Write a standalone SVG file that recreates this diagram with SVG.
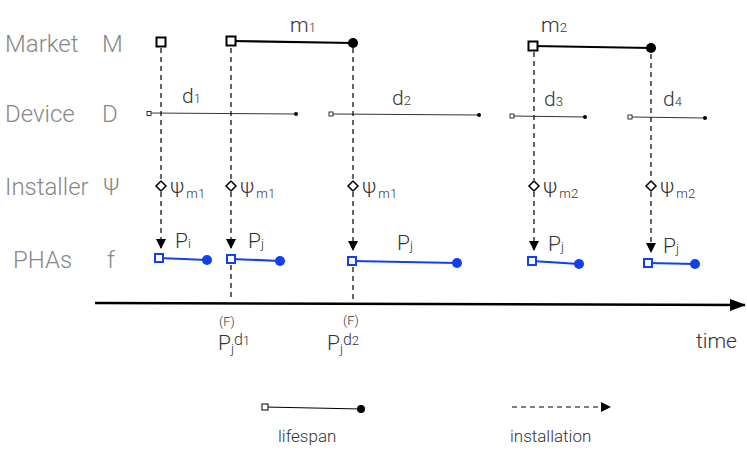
<svg xmlns="http://www.w3.org/2000/svg" width="747" height="453" viewBox="0 0 747 453">
<style>
text{font-family:Roboto,"Open Sans","Liberation Sans",sans-serif;font-weight:300;fill:#333}
.lab{font-size:24px;fill:#888}
.big{font-size:21px}
.sub{font-size:13px}
.life{stroke:#000;stroke-width:2.2;fill:none}
.dev{stroke:#000;stroke-width:0.8}
.pha{stroke:#1040f0;stroke-width:2.2}
.dash{stroke:#000;stroke-width:1.2;stroke-dasharray:5,4;fill:none}
</style>
<defs>
<marker id="ar" markerWidth="10" markerHeight="10" refX="9" refY="5" orient="auto" markerUnits="userSpaceOnUse"><path d="M0,0L10,5L0,10z" fill="#000"/></marker>
<marker id="ax" markerWidth="16" markerHeight="12" refX="15" refY="6" orient="auto" markerUnits="userSpaceOnUse"><path d="M0,0L16,6L0,12z" fill="#000"/></marker>
</defs>
<g id="labels">
<text class="lab" x="5" y="52">Market</text><text class="lab" x="102" y="52" fill="#555">M</text>
<text class="lab" x="5" y="122">Device</text><text class="lab" x="102" y="122">D</text>
<text class="lab" x="5" y="195">Installer</text><text class="lab" x="103" y="195">Ψ</text>
<text class="lab" x="13" y="268">PHAs</text><text class="lab" x="107" y="268">f</text>
</g>
<g id="connectors">
<path class="dash" d="M161,48V180M161,192V248" marker-end="url(#ar)"/>
<path class="dash" d="M231,48V180M231,192V248" marker-end="url(#ar)"/>
<path class="dash" d="M353,48V180M353,192V250" marker-end="url(#ar)"/>
<path class="dash" d="M534,52V180M534,192V250" marker-end="url(#ar)"/>
<path class="dash" d="M651,54V180M651,192V252" marker-end="url(#ar)"/>
<path class="dash" d="M231,265V300M353,267V300"/>
<line x1="95" y1="303" x2="745" y2="305" stroke="#000" stroke-width="2.5" marker-end="url(#ax)"/>
</g>
<g id="market">
<line class="life" x1="231" y1="41" x2="353" y2="43"/><rect x="226.5" y="36.5" width="9" height="9" fill="#fff" stroke="#000" stroke-width="2"/><circle cx="353" cy="43" r="5"/>
<rect x="156.5" y="37.5" width="9" height="9" fill="#fff" stroke="#000" stroke-width="2"/>
<line class="life" x1="533" y1="46" x2="651" y2="48"/><rect x="528.5" y="41.5" width="9" height="9" fill="#fff" stroke="#000" stroke-width="2"/><circle cx="651" cy="48" r="5"/>
<text class="big" x="290" y="32">m<tspan class="sub">1</tspan></text>
<text class="big" x="541" y="32">m<tspan class="sub">2</tspan></text>
</g>
<g id="device">
<line class="dev" x1="149" y1="113" x2="296" y2="114"/><rect x="147" y="111.5" width="4" height="4" fill="#fff" stroke="#000" stroke-width="0.8"/><circle cx="296" cy="114" r="2"/>
<line class="dev" x1="331" y1="114" x2="479" y2="115"/><rect x="329" y="112" width="4" height="4" fill="#fff" stroke="#000" stroke-width="0.8"/><circle cx="479" cy="115" r="2"/>
<line class="dev" x1="512" y1="116" x2="585" y2="117"/><rect x="510" y="114" width="4" height="4" fill="#fff" stroke="#000" stroke-width="0.8"/><circle cx="585" cy="117" r="2"/>
<line class="dev" x1="630" y1="117" x2="705" y2="118"/><rect x="628" y="115" width="4" height="4" fill="#fff" stroke="#000" stroke-width="0.8"/><circle cx="705" cy="118" r="2"/>
<text class="big" x="182" y="103">d<tspan class="sub">1</tspan></text>
<text class="big" x="392" y="105">d<tspan class="sub">2</tspan></text>
<text class="big" x="544" y="106">d<tspan class="sub">3</tspan></text>
<text class="big" x="663" y="106">d<tspan class="sub">4</tspan></text>
</g>
<g id="installer" fill="#fff" stroke="#000" stroke-width="1.5">
<path d="M161,181l5,5l-5,5l-5,-5z"/><path d="M231,181l5,5l-5,5l-5,-5z"/><path d="M353,181l5,5l-5,5l-5,-5z"/><path d="M534,181l5,5l-5,5l-5,-5z"/><path d="M651,181l5,5l-5,5l-5,-5z"/>
</g>
<g id="psi">
<text class="big" x="170" y="193">ψ<tspan class="sub" dx="2" dy="5">m1</tspan></text>
<text class="big" x="240" y="193">ψ<tspan class="sub" dx="2" dy="5">m1</tspan></text>
<text class="big" x="362" y="193">ψ<tspan class="sub" dx="2" dy="5">m1</tspan></text>
<text class="big" x="543" y="193">ψ<tspan class="sub" dx="2" dy="5">m2</tspan></text>
<text class="big" x="660" y="193">ψ<tspan class="sub" dx="2" dy="5">m2</tspan></text>
</g>
<g id="phas" fill="#1040f0">
<line class="pha" x1="159" y1="258" x2="207" y2="260"/><rect x="155" y="254" width="8" height="8" fill="#fff" stroke="#1040f0" stroke-width="2"/><circle cx="207" cy="260" r="5"/>
<line class="pha" x1="231" y1="259" x2="280" y2="261"/><rect x="227" y="255" width="8" height="8" fill="#fff" stroke="#1040f0" stroke-width="2"/><circle cx="280" cy="261" r="5"/>
<line class="pha" x1="352" y1="261" x2="457" y2="263"/><rect x="348" y="257" width="8" height="8" fill="#fff" stroke="#1040f0" stroke-width="2"/><circle cx="457" cy="263" r="5"/>
<line class="pha" x1="532" y1="261" x2="579" y2="264"/><rect x="528" y="257" width="8" height="8" fill="#fff" stroke="#1040f0" stroke-width="2"/><circle cx="579" cy="264" r="5"/>
<line class="pha" x1="648" y1="263" x2="695" y2="264"/><rect x="644" y="259" width="8" height="8" fill="#fff" stroke="#1040f0" stroke-width="2"/><circle cx="695" cy="264" r="5"/>
</g>
<g id="plabels">
<text class="big" x="175" y="248">P<tspan class="sub">i</tspan></text>
<text class="big" x="248" y="248">P<tspan class="sub">j</tspan></text>
<text class="big" x="397" y="250">P<tspan class="sub">j</tspan></text>
<text class="big" x="548" y="251">P<tspan class="sub">j</tspan></text>
<text class="big" x="663" y="253">P<tspan class="sub">j</tspan></text>
</g>
<g id="flabels">
<text class="sub" x="219" y="326">(F)</text>
<text class="big" x="218" y="350">P<tspan class="sub" dy="3">j</tspan><tspan font-size="16" dy="-8">d</tspan><tspan class="sub">1</tspan></text>
<text class="sub" x="343" y="325">(F)</text>
<text class="big" x="327" y="350">P<tspan class="sub" dy="3">j</tspan><tspan font-size="16" dy="-8">d</tspan><tspan class="sub">2</tspan></text>
<text class="big" x="696" y="348" fill="#777">time</text>
</g>
<g id="legend">
<line x1="265" y1="407" x2="361" y2="409" stroke="#000" stroke-width="1.2"/><rect x="262" y="404" width="6" height="6" fill="#fff" stroke="#000"/><circle cx="361" cy="409" r="4"/>
<text x="278" y="442" font-size="17">lifespan</text>
<path class="dash" d="M512,407H610" marker-end="url(#ar)"/>
<text x="510" y="442" font-size="17">installation</text>
</g>
</svg>
